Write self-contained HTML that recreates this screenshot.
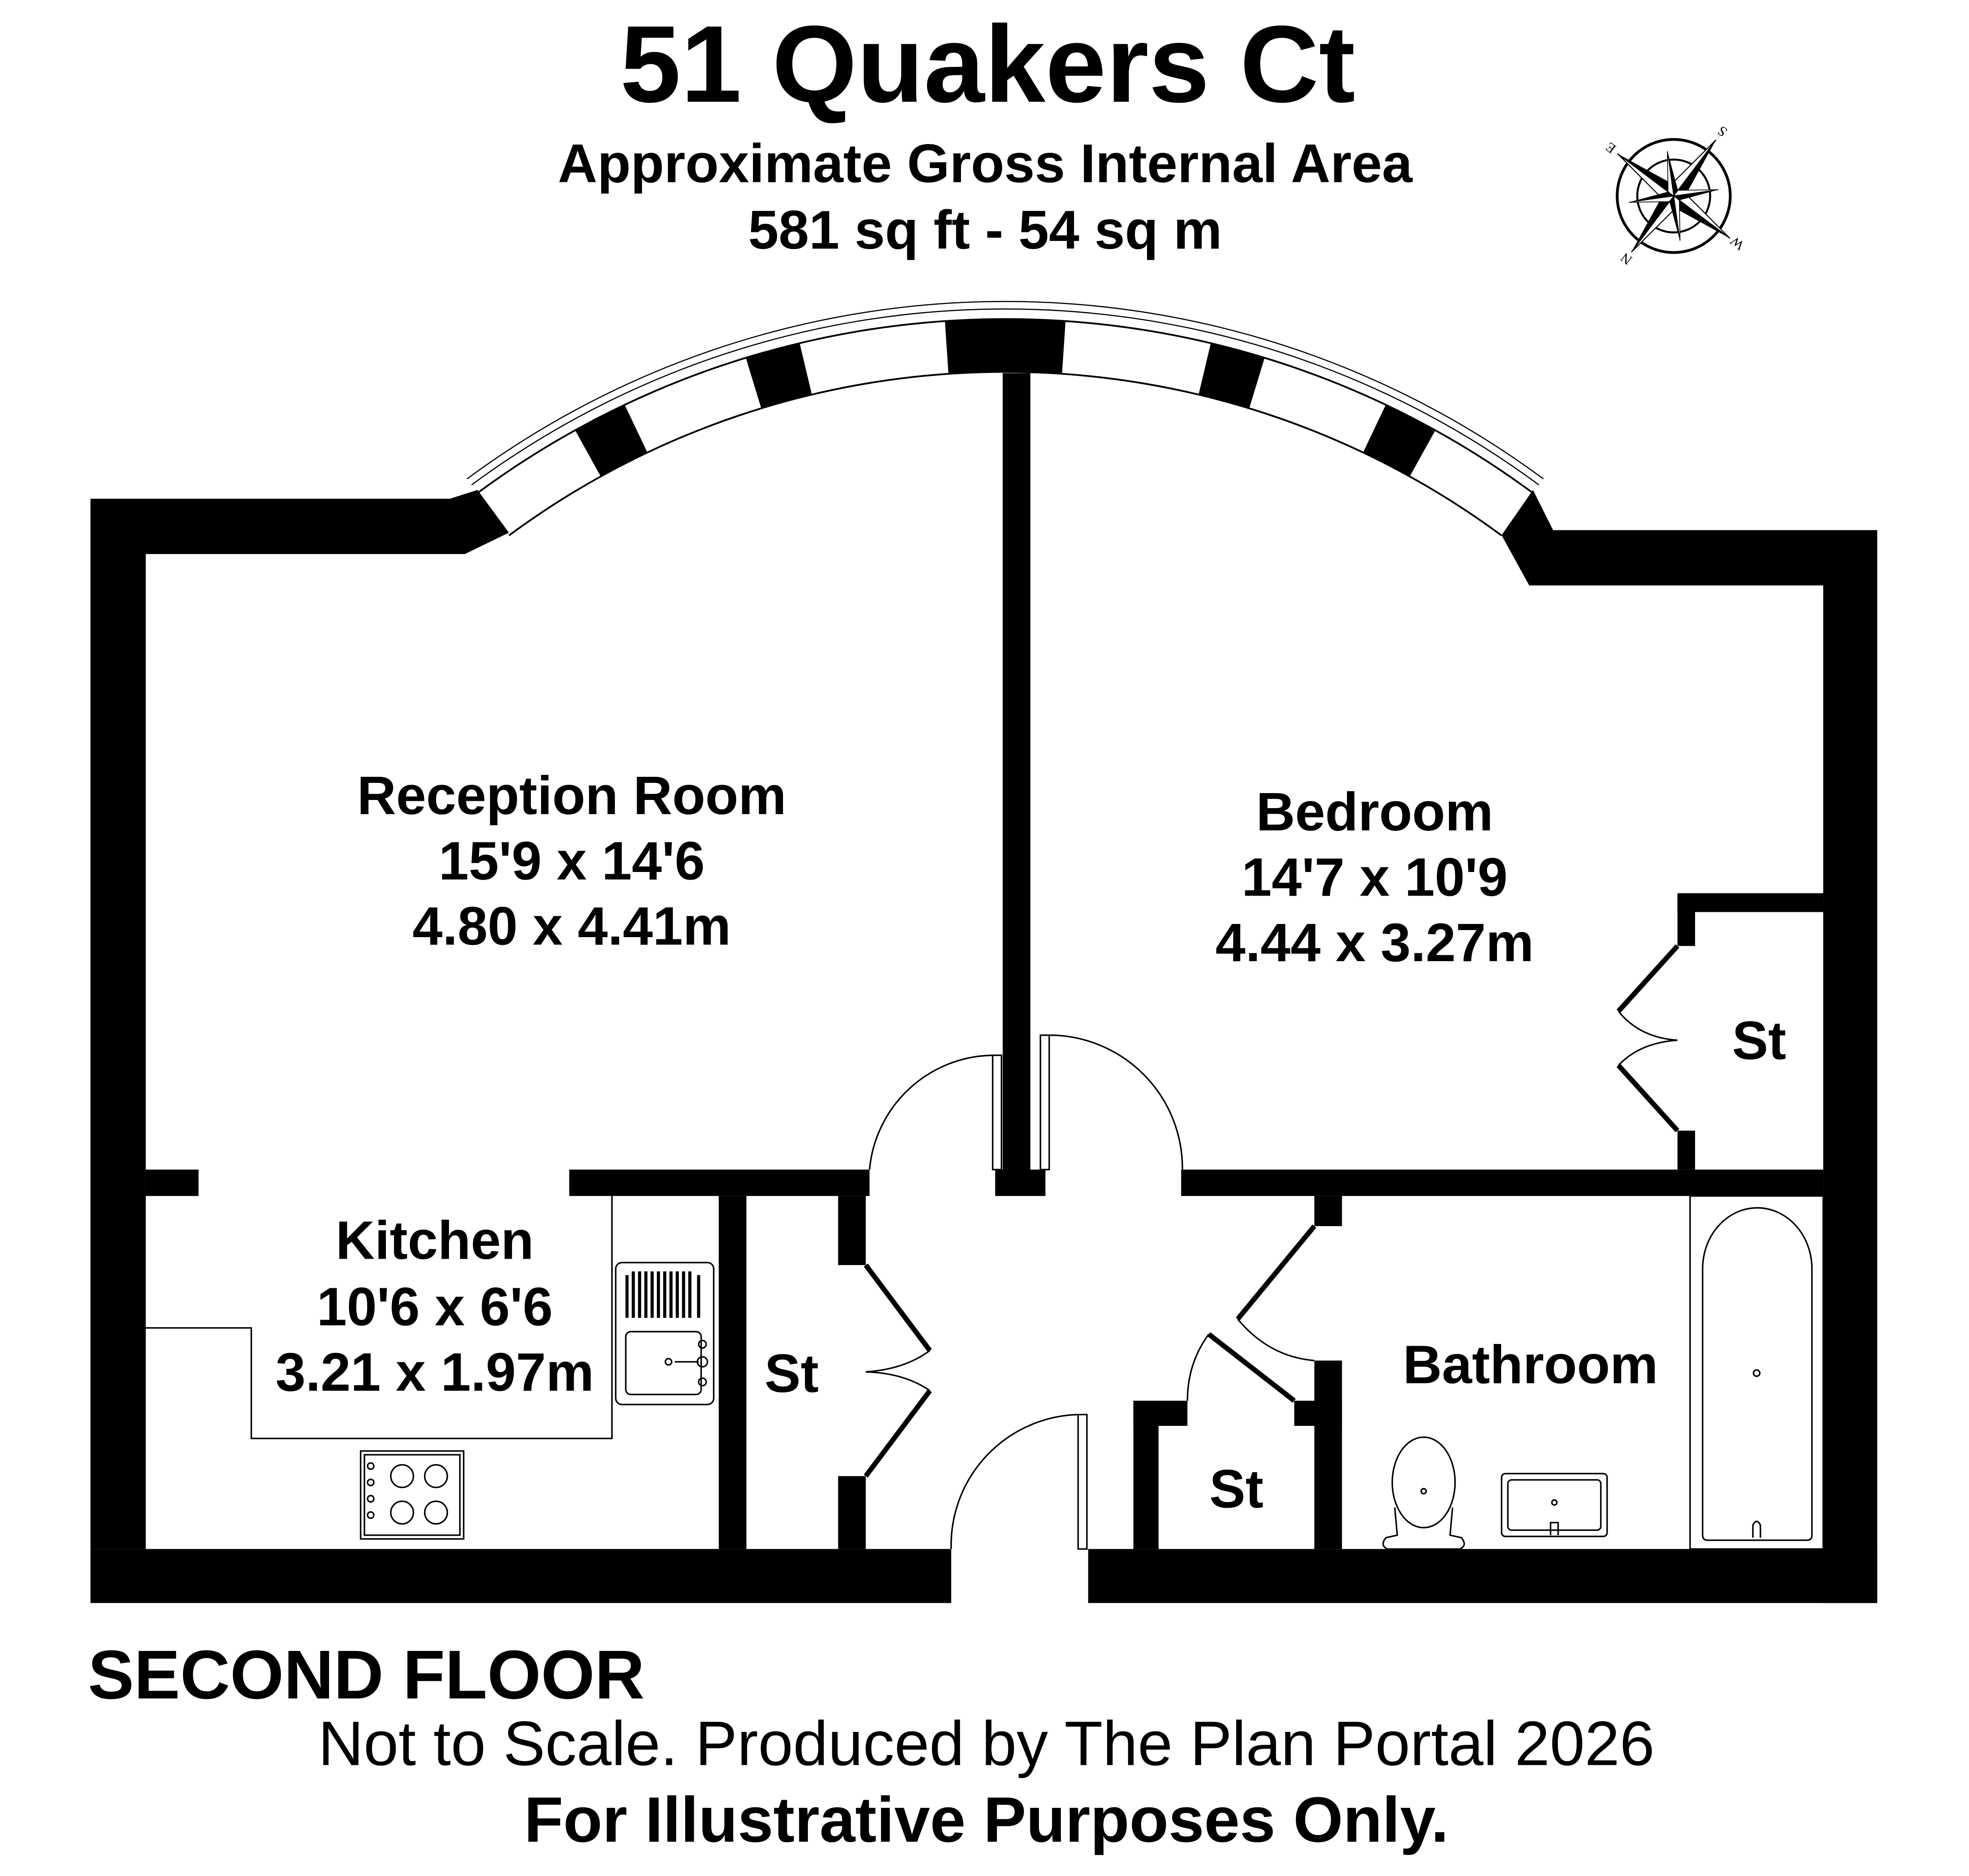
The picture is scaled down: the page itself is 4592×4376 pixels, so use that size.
<!DOCTYPE html>
<html><head><meta charset="utf-8"><style>html,body{margin:0;padding:0;background:#fff}svg{display:block}</style></head>
<body>
<svg width="4592" height="4376" viewBox="0 0 1567 1493.3" xmlns="http://www.w3.org/2000/svg" font-family="Liberation Sans, Arial, sans-serif">
<rect width="1567" height="1494" fill="#fff"/>
<text x="786" y="81" font-size="87" font-weight="bold" text-anchor="middle">51 Quakers Ct</text>
<text x="784" y="145" font-size="43.5" font-weight="bold" text-anchor="middle">Approximate Gross Internal Area</text>
<text x="784" y="198" font-size="43.5" font-weight="bold" text-anchor="middle">581 sq ft - 54 sq m</text>

<g transform="translate(1332,156)">
<circle r="45" fill="none" stroke="#000" stroke-width="2.2"/>
<circle r="29" fill="none" stroke="#000" stroke-width="1.6"/>
<g transform="rotate(217)">
 <polygon points="0,-56 7,-7 0,0" fill="#000"/><polygon points="0,-56 -7,-7 0,0" fill="#fff" stroke="#000" stroke-width="0.8"/>
 <polygon points="0,56 -7,7 0,0" fill="#000"/><polygon points="0,56 7,7 0,0" fill="#fff" stroke="#000" stroke-width="0.8"/>
 <polygon points="56,0 7,7 0,0" fill="#000"/><polygon points="56,0 7,-7 0,0" fill="#fff" stroke="#000" stroke-width="0.8"/>
 <polygon points="-56,0 -7,-7 0,0" fill="#000"/><polygon points="-56,0 -7,7 0,0" fill="#fff" stroke="#000" stroke-width="0.8"/>
 <g transform="rotate(45)">
  <polygon points="0,-36 4,-4 0,0" fill="#000"/><polygon points="0,-36 -4,-4 0,0" fill="#fff" stroke="#000" stroke-width="0.6"/>
  <polygon points="0,36 -4,4 0,0" fill="#000"/><polygon points="0,36 4,4 0,0" fill="#fff" stroke="#000" stroke-width="0.6"/>
  <polygon points="36,0 4,4 0,0" fill="#000"/><polygon points="36,0 4,-4 0,0" fill="#fff" stroke="#000" stroke-width="0.6"/>
  <polygon points="-36,0 -4,-4 0,0" fill="#000"/><polygon points="-36,0 -4,4 0,0" fill="#fff" stroke="#000" stroke-width="0.6"/>
 </g>
 <text x="0" y="-59" font-size="11" font-family="Liberation Serif, serif" text-anchor="middle">N</text>
 <text x="0" y="68" font-size="11" font-family="Liberation Serif, serif" text-anchor="middle">S</text>
 <text x="-63" y="4" font-size="11" font-family="Liberation Serif, serif" text-anchor="middle">W</text>
 <text x="63" y="4" font-size="11" font-family="Liberation Serif, serif" text-anchor="middle">E</text>
</g>
</g>

<g fill="none" stroke="#000" stroke-width="1.4">
<path d="M405.1,426.2 A664 664 0 0 1 1194.9,426.2"/>
<path d="M380.1,392.4 A706 706 0 0 1 1219.9,392.4"/>
<path d="M375.3,386 A714 714 0 0 1 1224.7,386" stroke-width="0.9"/>
<path d="M371.7,381.2 A720 720 0 0 1 1228.3,381.2" stroke-width="0.9"/>
</g>
<g fill="#000">
<path d="M752,255.6 A706 706 0 0 1 848,255.6 L845.2,297.5 A664 664 0 0 0 754.8,297.5 Z"/>
<path d="M963.6,273.2 A706 706 0 0 1 1006.4,284.9 L994.2,325 A664 664 0 0 0 953.9,314 Z"/>
<path d="M636.4,273.2 A706 706 0 0 0 593.6,284.9 L605.8,325 A664 664 0 0 1 646.1,314 Z"/>
<path d="M1102.8,322.3 A706 706 0 0 1 1142.3,342.5 L1121.9,379.3 A664 664 0 0 0 1084.8,360.2 Z"/>
<path d="M497.2,322.3 A706 706 0 0 0 457.7,342.5 L478.1,379.3 A664 664 0 0 1 515.2,360.2 Z"/>
<polygon points="72,397 358,397 380,390 405,424 370,441 116,441 116,1233 72,1233"/>
<polygon points="1220,390 1236,422 1494,422 1494,1276 1451,1276 1451,466 1217,466 1195,426"/>
<rect x="72" y="1233" width="685" height="43"/>
<rect x="866" y="1233" width="628" height="43"/>
<rect x="798" y="297" width="22" height="640"/>
<rect x="792" y="931" width="40" height="21"/>
<rect x="116" y="931" width="42" height="21"/>
<rect x="453" y="931" width="239" height="21"/>
<rect x="940" y="931" width="511" height="21"/>
<rect x="572" y="952" width="22" height="281"/>
<rect x="667" y="952" width="22" height="55"/>
<rect x="667" y="1175" width="22" height="58"/>
<rect x="902" y="1115" width="20" height="118"/>
<rect x="902" y="1115" width="43" height="20"/>
<rect x="1030" y="1115" width="38" height="20"/>
<rect x="1046" y="952" width="22" height="24"/>
<rect x="1046" y="1083" width="22" height="150"/>
<rect x="1335" y="711" width="116" height="15"/>
<rect x="1335" y="711" width="14" height="42"/>
<rect x="1335" y="900" width="14" height="31"/>
</g>

<g fill="none" stroke="#000" stroke-width="1.2">
<rect x="790" y="840" width="7" height="91" fill="#fff"/>
<path d="M790,840 A100 100 0 0 0 692,931"/>
<rect x="828" y="824" width="7" height="107" fill="#fff"/>
<path d="M835,824 A106 106 0 0 1 941,931"/>
<rect x="858" y="1126" width="7" height="107" fill="#fff"/>
<path d="M858,1126 A104 104 0 0 0 757,1233"/>
<path d="M689,1007 L740,1075" stroke-width="4"/>
<path d="M689,1175 L740,1107" stroke-width="4"/>
<path d="M740,1075 Q720,1090 689,1092"/>
<path d="M740,1107 Q720,1093 689,1092"/>
<path d="M1046,976 L985,1050" stroke-width="4"/>
<path d="M985,1050 Q1010,1080 1046,1083"/>
<path d="M962,1062 L1030,1115" stroke-width="4"/>
<path d="M962,1062 Q945,1085 945,1115"/>
<path d="M1335,753 L1288,805" stroke-width="4"/>
<path d="M1335,900 L1288,848" stroke-width="4"/>
<path d="M1288,805 Q1305,826 1335,828"/>
<path d="M1288,848 Q1305,830 1335,828"/>
</g>

<g fill="none" stroke="#000" stroke-width="1.2">
<path d="M116,1057 L200,1057 L200,1145 L487,1145 L487,952"/>
<rect x="490" y="1005" width="78" height="113" rx="5"/>
<rect x="498" y="1060" width="60" height="50" rx="4"/>
<circle cx="532" cy="1084" r="2.5"/><circle cx="559" cy="1084" r="4"/>
<line x1="537" y1="1084" x2="556" y2="1084"/>
<circle cx="559" cy="1070" r="3"/><circle cx="559" cy="1100" r="3"/>
<g stroke-width="2.5">
<line x1="499" y1="1015" x2="499" y2="1049"/><line x1="504" y1="1012" x2="504" y2="1049"/><line x1="509" y1="1012" x2="509" y2="1049"/><line x1="514" y1="1012" x2="514" y2="1049"/><line x1="519" y1="1012" x2="519" y2="1049"/><line x1="524" y1="1012" x2="524" y2="1049"/><line x1="529" y1="1012" x2="529" y2="1049"/><line x1="534" y1="1012" x2="534" y2="1049"/><line x1="539" y1="1012" x2="539" y2="1049"/><line x1="544" y1="1012" x2="544" y2="1049"/><line x1="549" y1="1012" x2="549" y2="1049"/><line x1="556" y1="1015" x2="556" y2="1049"/>
</g>
<rect x="287" y="1155" width="82" height="70"/>
<rect x="290" y="1158" width="76" height="64"/>
<circle cx="320" cy="1175" r="9"/><circle cx="347" cy="1175" r="9"/>
<circle cx="320" cy="1204" r="9"/><circle cx="347" cy="1204" r="9"/>
<circle cx="295" cy="1167" r="2.5"/><circle cx="295" cy="1180" r="2.5"/><circle cx="295" cy="1193" r="2.5"/><circle cx="295" cy="1206" r="2.5"/>
</g>

<g fill="none" stroke="#000" stroke-width="1.2">
<rect x="1345" y="952" width="106" height="281"/>
<path d="M1355,1010 A43 48 0 0 1 1442,1010 L1442,1222 Q1442,1226 1438,1226 L1359,1226 Q1355,1226 1355,1222 Z"/>
<circle cx="1398" cy="1093" r="2.5"/>
<path d="M1395,1224 L1395,1214 Q1398,1208 1401,1214 L1401,1224"/>
<rect x="1195" y="1173" width="84" height="50" rx="3"/>
<rect x="1200" y="1178" width="74" height="40" rx="3"/>
<circle cx="1237" cy="1196" r="2"/>
<path d="M1234,1222 L1234,1212 L1240,1212 L1240,1222"/>
<ellipse cx="1133" cy="1180" rx="25" ry="36"/>
<circle cx="1133" cy="1187" r="2"/>
<path d="M1110,1200 L1112,1222 L1103,1224 Q1098,1230 1104,1233 L1162,1233 Q1168,1230 1163,1224 L1154,1222 L1156,1200"/>
</g>

<g font-size="43" font-weight="bold" text-anchor="middle">
<text x="455" y="648">Reception Room</text>
<text x="455" y="700">15'9 x 14'6</text>
<text x="455" y="752">4.80 x 4.41m</text>
<text x="1094" y="661">Bedroom</text>
<text x="1094" y="713">14'7 x 10'9</text>
<text x="1094" y="765">4.44 x 3.27m</text>
<text x="1400" y="843">St</text>
<text x="346" y="1002">Kitchen</text>
<text x="346" y="1055">10'6 x 6'6</text>
<text x="346" y="1107">3.21 x 1.97m</text>
<text x="630" y="1108">St</text>
<text x="984" y="1200">St</text>
<text x="1218" y="1101">Bathroom</text>
</g>

<text x="70" y="1352" font-size="55" font-weight="bold">SECOND FLOOR</text>
<text x="785" y="1405" font-size="50" text-anchor="middle">Not to Scale. Produced by The Plan Portal 2026</text>
<text x="785" y="1466" font-size="51" font-weight="bold" text-anchor="middle">For Illustrative Purposes Only.</text>
</svg>
</body></html>
